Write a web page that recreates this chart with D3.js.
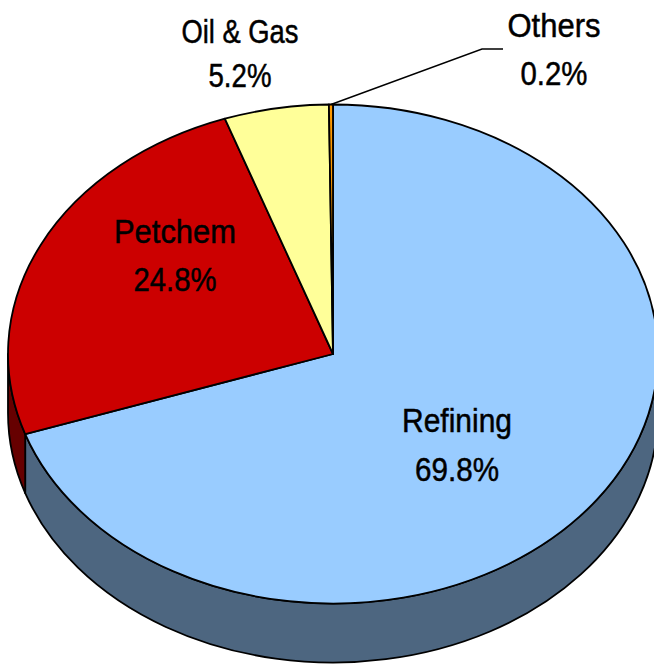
<!DOCTYPE html>
<html>
<head>
<meta charset="utf-8">
<script src="https://cdn.jsdelivr.net/npm/d3@7"></script>
<style>
  html, body { margin: 0; padding: 0; background: #fff; }
  svg { display: block; }
  text { font-family: "Liberation Sans Narrow", "Arial Narrow", "Liberation Sans", Arial, sans-serif; fill: #000; stroke: #000; stroke-width: 0.5px; }
</style>
</head>
<body>
<svg id="chart" width="654" height="664"></svg>
<script>
// ---- data ----
const categories = ["Refining", "Petchem", "Oil & Gas", "Others"];
const values = [69.8, 24.8, 5.2, 0.2];
const valueLabels = ["69.8%", "24.8%", "5.2%", "0.2%"];
const colors = ["#99CCFF", "#CC0000", "#FFFF99", "#FF9900"];

// ---- layout ----
const W = 654, H = 664;
const cx = 333, cy = 354, rx = 325, ry = 249.5, depth = 59;
// label anchor positions (name baseline, value baseline) and rendered text widths
const labelPos = [
  { x: 457, y1: 432, y2: 481, w1: 110, w2: 84 },
  { x: 175, y1: 243, y2: 291, w1: 122, w2: 83 },
  { x: 240, y1: 43, y2: 87, w1: 117, w2: 63 },
  { x: 554, y1: 37, y2: 85, w1: 93, w2: 67 }
];
const fontSize = 34;

const svg = d3.select("#chart");
const color = d3.scaleOrdinal().domain(categories).range(colors);

const pie = d3.pie().sort(null).value(d => d.value).startAngle(0).endAngle(2 * Math.PI);
const data = categories.map((c, i) => ({ name: c, value: values[i], label: valueLabels[i] }));
const arcs = pie(data);

function pt(theta, dy = 0) {
  return [cx + rx * Math.sin(theta), cy - ry * Math.cos(theta) + dy];
}

function topPath(a0, a1) {
  const p0 = pt(a0), p1 = pt(a1);
  const large = (a1 - a0) > Math.PI ? 1 : 0;
  return `M${cx},${cy}L${p0[0]},${p0[1]}A${rx},${ry} 0 ${large} 1 ${p1[0]},${p1[1]}Z`;
}

function sidePath(a0, a1) {
  const s = Math.max(a0, Math.PI / 2), e = Math.min(a1, 3 * Math.PI / 2);
  if (e <= s) return null;
  const p0 = pt(s), p1 = pt(e), q1 = pt(e, depth), q0 = pt(s, depth);
  const large = (e - s) > Math.PI ? 1 : 0;
  return `M${p0[0]},${p0[1]}A${rx},${ry} 0 ${large} 1 ${p1[0]},${p1[1]}` +
         `L${q1[0]},${q1[1]}A${rx},${ry} 0 ${large} 0 ${q0[0]},${q0[1]}Z`;
}

const g = svg.append("g");

// side faces
g.selectAll("path.side")
  .data(arcs.filter(a => sidePath(a.startAngle, a.endAngle)))
  .join("path")
  .attr("class", "side")
  .attr("d", a => sidePath(a.startAngle, a.endAngle))
  .attr("fill", a => {
    const c = d3.rgb(color(a.data.name));
    return d3.rgb(c.r * 0.5, c.g * 0.5, c.b * 0.5).formatHex();
  })
  .attr("stroke", "#000")
  .attr("stroke-width", 1.8)
  .attr("stroke-linejoin", "round");

// top faces
g.selectAll("path.top")
  .data(arcs)
  .join("path")
  .attr("class", "top")
  .attr("d", a => topPath(a.startAngle, a.endAngle))
  .attr("fill", a => color(a.data.name))
  .attr("stroke", "#000")
  .attr("stroke-width", 1.8)
  .attr("stroke-linejoin", "round");

// leader line for Others
const oth = arcs[3];
const mid = (oth.startAngle + oth.endAngle) / 2;
const lp = pt(mid);
svg.append("path")
  .attr("d", `M${lp[0]},${lp[1]}L482,49L503,49`)
  .attr("fill", "none")
  .attr("stroke", "#000")
  .attr("stroke-width", 1.4);

// labels
const lg = svg.append("g");
arcs.forEach((a, i) => {
  const p = labelPos[i];
  lg.append("text").attr("x", p.x).attr("y", p.y1).attr("text-anchor", "middle")
    .attr("font-size", fontSize)
    .attr("textLength", p.w1).attr("lengthAdjust", "spacingAndGlyphs")
    .text(a.data.name);
  lg.append("text").attr("x", p.x).attr("y", p.y2).attr("text-anchor", "middle")
    .attr("font-size", fontSize)
    .attr("textLength", p.w2).attr("lengthAdjust", "spacingAndGlyphs")
    .text(a.data.label);
});
</script>
</body>
</html>
